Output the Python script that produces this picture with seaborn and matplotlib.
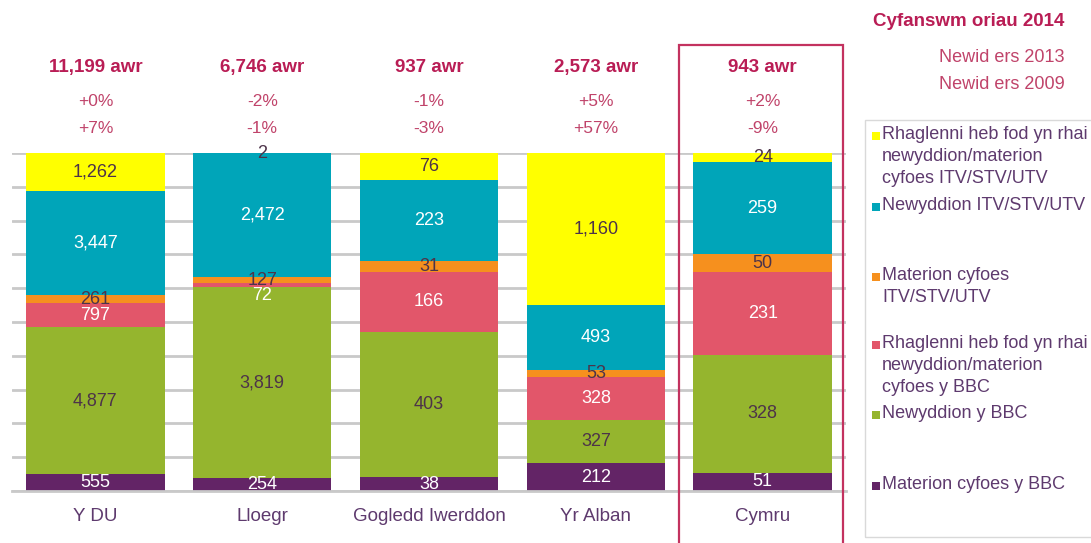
import numpy as np
import pandas as pd
import matplotlib
matplotlib.use("Agg")
import matplotlib.pyplot as plt
import matplotlib.transforms as mtransforms
from matplotlib.patches import Rectangle
import seaborn as sns

# data (hours, 2014)
regions = ["Y DU", "Lloegr", "Gogledd Iwerddon", "Yr Alban", "Cymru"]
bbc_current = [555, 254, 38, 212, 51]
bbc_news = [4877, 3819, 403, 327, 328]
bbc_other = [797, 72, 166, 328, 231]
itv_current = [261, 127, 31, 53, 50]
itv_news = [3447, 2472, 223, 493, 259]
itv_other = [1262, 2, 76, 1160, 24]
change_2013 = ["+0%", "-2%", "-1%", "+5%", "+2%"]
change_2009 = ["+7%", "-1%", "-3%", "+57%", "-9%"]

series_names = [
    "Materion cyfoes y BBC",
    "Newyddion y BBC",
    "Rhaglenni heb fod yn rhai\nnewyddion/materion\ncyfoes y BBC",
    "Materion cyfoes\nITV/STV/UTV",
    "Newyddion ITV/STV/UTV",
    "Rhaglenni heb fod yn rhai\nnewyddion/materion\ncyfoes ITV/STV/UTV",
]
series_values = [bbc_current, bbc_news, bbc_other, itv_current, itv_news, itv_other]
colors = ["#632466", "#95b52e", "#e2566a", "#f6901e", "#00a5b9", "#ffff00"]
label_colors = ["white", "#4d3349", "white", "#4d3349", "white", "#4d3349"]

vals = np.array(series_values, dtype=float)
totals = vals.sum(axis=0)
shares = vals / totals * 100
cum = shares.cumsum(axis=0)

sns.set_style("white")
plt.rcParams["font.family"] = ["Liberation Sans", "DejaVu Sans"]

fig = plt.figure(figsize=(10.91, 5.43), dpi=100)
ax = fig.add_axes([0.011, 0.0958, 0.7645, 0.6224])

# stacked bars: draw cumulative layers from top to bottom
for k in reversed(range(len(series_names))):
    df = pd.DataFrame({"region": regions, "cum": cum[k]})
    sns.barplot(data=df, x="region", y="cum", color=colors[k], saturation=1,
                width=0.83, errorbar=None, linewidth=0, ax=ax)

ax.set_ylim(0, 100)
ax.set_xlim(-0.5, len(regions) - 0.5)
ax.set_yticks(np.arange(0, 101, 10))
ax.set_yticklabels([])
ax.grid(axis="y", color="#c9c9c9", linewidth=2)
ax.set_axisbelow(True)
ax.tick_params(axis="y", length=0)
ax.set_xlabel("")
ax.set_ylabel("")
for s in ["top", "right", "left"]:
    ax.spines[s].set_visible(False)
ax.spines["bottom"].set_color("#c9c9c9")
ax.spines["bottom"].set_linewidth(2)
ax.tick_params(axis="x", which="major", length=0, labelsize=13.5,
               labelcolor="#5e3a6e", pad=12)
ax.set_xticks(np.arange(-0.5, len(regions)), minor=True)
ax.tick_params(axis="x", which="minor", length=5, width=2, color="#c9c9c9")

# segment labels
for k in range(len(series_names)):
    for i in range(len(regions)):
        bottom = cum[k][i] - shares[k][i]
        if shares[k][i] < 1.5 and k < len(series_names) - 1:
            y, va = bottom, "top"
        else:
            y, va = bottom + shares[k][i] / 2, "center"
        ax.text(i, y, f"{int(vals[k][i]):,}", ha="center", va=va,
                fontsize=13, color=label_colors[k])

# totals and changes above bars
trans = mtransforms.blended_transform_factory(ax.transData, fig.transFigure)
for i in range(len(regions)):
    ax.text(i, 0.875, f"{int(totals[i]):,} awr", transform=trans, ha="center",
            va="center", fontsize=13.5, fontweight="bold", color="#b91d55")
    ax.text(i, 0.813, change_2013[i], transform=trans, ha="center", va="center",
            fontsize=12.5, color="#c0436a")
    ax.text(i, 0.764, change_2009[i], transform=trans, ha="center", va="center",
            fontsize=12.5, color="#c0436a")

# highlight box around Cymru
box = Rectangle((3.5, -0.05), 0.98, 0.967, transform=trans, fill=False,
                edgecolor="#c3325f", linewidth=1.6, clip_on=False)
fig.add_artist(box)

# right-hand header
fig.text(0.976, 0.96, "Cyfanswm oriau 2014", ha="right", va="center",
         fontsize=13.5, fontweight="bold", color="#b91d55")
fig.text(0.976, 0.894, "Newid ers 2013", ha="right", va="center",
         fontsize=13, color="#c0436a")
fig.text(0.976, 0.844, "Newid ers 2009", ha="right", va="center",
         fontsize=13, color="#c0436a")

# legend drawn by hand (Excel-style spacing)
fig.add_artist(Rectangle((865 / 1091, 1 - 537 / 543), 0.25, 417 / 543,
                         transform=fig.transFigure, fill=False,
                         edgecolor="#d9d9d9", linewidth=1))
legend_rows = [136, 207, 277, 345, 415, 486]
legend_order = [5, 4, 3, 2, 1, 0]
for row, k in zip(legend_rows, legend_order):
    y = 1 - row / 543
    fig.add_artist(Rectangle((872 / 1091, y - 4 / 543), 8 / 1091, 8 / 543,
                             transform=fig.transFigure, facecolor=colors[k],
                             edgecolor="none"))
    fig.text(882 / 1091, y + 10 / 543, series_names[k], ha="left", va="top",
             fontsize=13, color="#5e3a6e", linespacing=1.38)

fig.savefig("out.png", dpi=100)
